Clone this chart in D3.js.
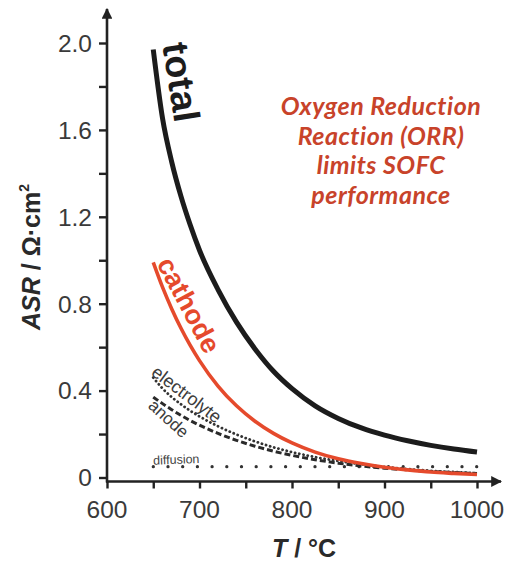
<!DOCTYPE html>
<html>
<head>
<meta charset="utf-8">
<script src="https://cdn.jsdelivr.net/npm/d3@7/dist/d3.min.js"></script>
<style>
  html, body { margin: 0; padding: 0; background: #fff; }
  svg { display: block; }
</style>
</head>
<body>
<svg id="chart" width="509" height="563"></svg>
<script>
// Area-specific resistance of SOFC components vs. operating temperature
const temps       = [650, 660, 670, 680, 690, 700, 720, 740, 760, 780, 800, 825, 850, 875, 900, 925, 950, 975, 1000];
const total       = [1.97, 1.654, 1.452, 1.294, 1.162, 1.046, 0.865, 0.715, 0.592, 0.489, 0.409, 0.330, 0.272, 0.228, 0.195, 0.169, 0.148, 0.131, 0.117];
const cathode     = [0.99, 0.876, 0.776, 0.687, 0.608, 0.538, 0.421, 0.330, 0.259, 0.203, 0.159, 0.117, 0.086, 0.064, 0.047, 0.035, 0.025, 0.019, 0.014];
const electrolyte = [0.46, 0.41, 0.37, 0.337, 0.307, 0.281, 0.236, 0.198, 0.166, 0.139, 0.117, 0.094, 0.076, 0.061, 0.049, 0.039, 0.031, 0.025, 0.02];
const anode       = [0.37, 0.340, 0.312, 0.286, 0.262, 0.241, 0.203, 0.171, 0.144, 0.121, 0.102, 0.082, 0.066, 0.053, 0.043, 0.035, 0.028, 0.023, 0.018];
const diffusion   = [0.05, 0.05, 0.05, 0.05, 0.05, 0.05, 0.05, 0.05, 0.05, 0.05, 0.05, 0.05, 0.05, 0.05, 0.05, 0.05, 0.05, 0.05, 0.05];

const xTickValues = [600, 700, 800, 900, 1000];
const xMinorTicks = [600, 650, 700, 750, 800, 850, 900, 950, 1000];
const yTickValues = [0, 0.4, 0.8, 1.2, 1.6, 2.0];
const yMinorTicks = [0, 0.2, 0.4, 0.6, 0.8, 1.0, 1.2, 1.4, 1.6, 1.8, 2.0];
const yTickLabels = ["0", "0.4", "0.8", "1.2", "1.6", "2.0"];

const noteLines = ["Oxygen Reduction", "Reaction (ORR)", "limits SOFC", "performance"];

const svg = d3.select("#chart");
const FONT = "'Liberation Sans', Arial, sans-serif";
const AXIS = "#222";
const RED = "#e54a2c";

const x = d3.scaleLinear().domain([600, 1000]).range([107, 477]);
const y = d3.scaleLinear().domain([0, 2]).range([477.5, 43]);
const axisY = y(0) + 4;       // horizontal axis sits just below zero

// arrowhead marker
const defs = svg.append("defs");
defs.append("marker")
  .attr("id", "arrow")
  .attr("viewBox", "0 0 10 10")
  .attr("refX", 9).attr("refY", 5)
  .attr("markerWidth", 4.2).attr("markerHeight", 4.2)
  .attr("markerUnits", "strokeWidth")
  .attr("orient", "auto")
  .append("path").attr("d", "M0,0 L10,5 L0,10 z").attr("fill", AXIS);

// y axis
const yAxis = d3.axisLeft(y).tickValues(yMinorTicks).tickSize(8)
  .tickFormat(() => "");
const gy = svg.append("g").attr("transform", `translate(${x(600)},0)`).call(yAxis);
gy.select(".domain").remove();
gy.selectAll(".tick line").attr("stroke", AXIS).attr("stroke-width", 2.4);
svg.append("g").selectAll("text").data(yTickValues).join("text")
  .attr("x", x(600) - 15).attr("y", d => y(d)).attr("dy", "0.36em")
  .attr("text-anchor", "end")
  .attr("font-family", FONT).attr("font-size", 24.5).attr("fill", "#3a3a3a")
  .text((d, i) => yTickLabels[i]);

// x axis
const xAxis = d3.axisBottom(x).tickValues(xMinorTicks).tickSize(7)
  .tickFormat(() => "");
const gx = svg.append("g").attr("transform", `translate(0,${axisY})`).call(xAxis);
gx.select(".domain").remove();
gx.selectAll(".tick line").attr("stroke", AXIS).attr("stroke-width", 2.4);
svg.append("g").selectAll("text").data(xTickValues).join("text")
  .attr("x", d => x(d)).attr("y", axisY + 36)
  .attr("text-anchor", "middle")
  .attr("font-family", FONT).attr("font-size", 24.5).attr("fill", "#3a3a3a")
  .text(d => d);

// axis lines with arrows
svg.append("line")
  .attr("x1", x(600)).attr("y1", axisY + 1).attr("x2", x(600)).attr("y2", 9)
  .attr("stroke", AXIS).attr("stroke-width", 2.6).attr("marker-end", "url(#arrow)");
svg.append("line")
  .attr("x1", x(600) - 1).attr("y1", axisY).attr("x2", 501).attr("y2", axisY)
  .attr("stroke", AXIS).attr("stroke-width", 2.6).attr("marker-end", "url(#arrow)");

// axis titles
const yt = svg.append("text")
  .attr("transform", `translate(40,257) rotate(-90)`)
  .attr("text-anchor", "middle")
  .attr("font-family", FONT).attr("font-size", 25).attr("font-weight", "bold").attr("fill", "#2a2a2a");
yt.append("tspan").attr("font-style", "italic").text("ASR");
yt.append("tspan").text(" / Ω·cm");
yt.append("tspan").attr("font-size", 14).attr("dy", -11).text("2");

const xt = svg.append("text")
  .attr("x", 304).attr("y", 557)
  .attr("text-anchor", "middle")
  .attr("font-family", FONT).attr("font-size", 25).attr("font-weight", "bold").attr("fill", "#2a2a2a");
xt.append("tspan").attr("font-style", "italic").text("T");
xt.append("tspan").text(" / °C");

// series
const line = d3.line().x(d => x(d[0])).y(d => y(d[1])).curve(d3.curveMonotoneX);
const pts = vals => temps.map((t, i) => [t, vals[i]]);

const series = [
  { name: "diffusion",   vals: diffusion,   color: "#333", width: 3.2, dash: "0.1 14.6", cap: "round" },
  { name: "anode",       vals: anode,       color: "#2a2a2a", width: 3, dash: "6 3", cap: "butt" },
  { name: "electrolyte", vals: electrolyte, color: "#333", width: 2.8, dash: "0.1 4.2", cap: "round" },
  { name: "cathode",     vals: cathode,     color: RED, width: 3.6, dash: null, cap: "butt" },
  { name: "total",       vals: total,       color: "#1c1c1c", width: 5, dash: null, cap: "butt" }
];
svg.append("g").selectAll("path").data(series).join("path")
  .attr("d", s => line(pts(s.vals)))
  .attr("fill", "none")
  .attr("stroke", s => s.color)
  .attr("stroke-width", s => s.width)
  .attr("stroke-linecap", s => s.cap)
  .attr("stroke-dasharray", s => s.dash);

// curve labels
function label(txt, px, py, angle, size, color, weight, len) {
  const t = svg.append("text")
    .attr("transform", `translate(${px},${py}) rotate(${angle})`)
    .attr("font-family", FONT).attr("font-size", size)
    .attr("font-weight", weight).attr("fill", color)
    .text(txt);
  if (len) t.attr("textLength", len).attr("lengthAdjust", "spacingAndGlyphs");
}
label("total", x(650) + 9, y(1.97) - 5, 81, 37, "#1c1c1c", "bold", 80);
label("cathode", x(650) + 3, y(0.99) + 1, 62, 27, RED, "bold", 104);
label("electrolyte", x(650) - 3, y(0.46) - 3, 37, 18, "#3c3c3c", "normal");
label("anode", x(650) - 6, y(0.37) + 10, 42, 17, "#3c3c3c", "normal");
label("diffusion", x(650), y(0.05) - 2, -2, 12.5, "#444", "normal");

// annotation
svg.append("g").selectAll("text").data(noteLines).join("text")
  .attr("x", 381).attr("y", (d, i) => 115 + i * 29.5)
  .attr("text-anchor", "middle")
  .attr("font-family", "Lato, 'Open Sans', sans-serif")
  .attr("font-size", 25).attr("font-weight", "bold").attr("font-style", "italic")
  .attr("letter-spacing", 0.5)
  .attr("fill", "#c8432a")
  .text(d => d);
</script>
</body>
</html>
